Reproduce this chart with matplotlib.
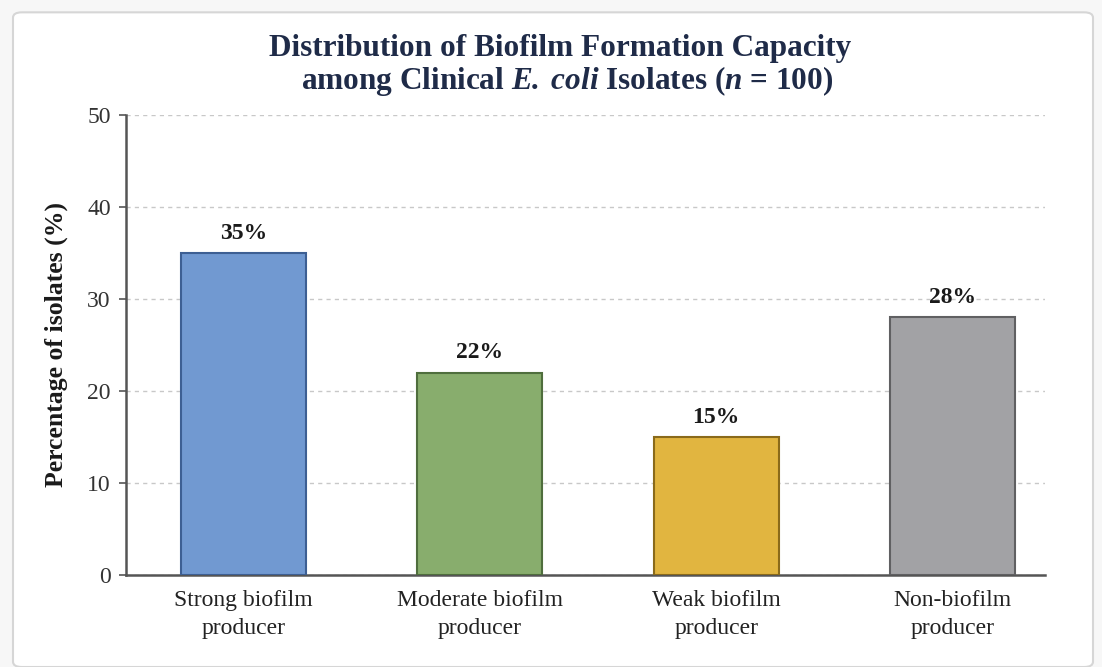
import matplotlib.pyplot as plt
from matplotlib.patches import FancyBboxPatch

# Biofilm formation categories and percentages of isolates
categories = ['Strong biofilm\nproducer', 'Moderate biofilm\nproducer',
              'Weak biofilm\nproducer', 'Non-biofilm\nproducer']
percentages = [35, 22, 15, 28]
bar_colors = ['#7199d1', '#88ad6d', '#e1b540', '#a2a2a5']
edge_colors = ['#3d5f93', '#4f6e3d', '#8a6a1a', '#606062']
yticks = [0, 10, 20, 30, 40, 50]

plt.rcParams['font.family'] = ['Liberation Serif', 'DejaVu Serif']
plt.rcParams['mathtext.fontset'] = 'custom'
plt.rcParams['mathtext.rm'] = 'Liberation Serif:bold'
plt.rcParams['mathtext.bfit'] = 'Liberation Serif:bold:italic'

fig = plt.figure(figsize=(11.02, 6.67), dpi=100)
fig.patch.set_facecolor('#f7f7f7')

# white card behind the chart
card = FancyBboxPatch((13 / 1102, 0), 1080 / 1102, 658 / 667 - 0.005,
                      boxstyle='round,pad=0,rounding_size=0.008',
                      transform=fig.transFigure, facecolor='white',
                      edgecolor='#d6d6d6', linewidth=1.5, zorder=-1)
fig.patches.append(card)

ax = fig.add_axes([126 / 1102, (667 - 575) / 667, 919 / 1102, 460 / 667])
ax.set_facecolor('none')

x = list(range(len(categories)))
bars = ax.bar(x, percentages, width=0.53, color=bar_colors,
              edgecolor=edge_colors, linewidth=1.5, zorder=3)

for b, v in zip(bars, percentages):
    ax.text(b.get_x() + b.get_width() / 2, v + 1.0, f'{v}%',
            ha='center', va='bottom', fontsize=17, fontweight='bold',
            color='#1a1a1a', zorder=4)

ax.set_ylim(0, 50)
ax.set_xlim(-0.496, 3.39)
ax.set_yticks(yticks)
ax.set_yticklabels([str(t) for t in yticks], fontsize=17, color='#333333')
ax.set_xticks(x)
ax.set_xticklabels(categories, fontsize=17, color='#222222', linespacing=1.45)
ax.tick_params(axis='x', length=0, pad=11)
ax.tick_params(axis='y', length=5, width=1.2, color='#555555', pad=6)

ax.yaxis.grid(True, linestyle=(0, (3, 3)), color='#c8c8c8', linewidth=1.0, zorder=0)
ax.set_axisbelow(True)

for side in ['top', 'right']:
    ax.spines[side].set_visible(False)
for side in ['left', 'bottom']:
    ax.spines[side].set_color('#555555')
    ax.spines[side].set_linewidth(1.8)

ax.set_ylabel('Percentage of isolates (%)', fontsize=18.5, fontweight='bold',
              color='#1a1a1a', labelpad=14)

fig.text(0.508, 0.928, 'Distribution of Biofilm Formation Capacity',
         ha='center', va='center', fontsize=22.5, fontweight='bold', color='#1f2b48')
fig.text(0.515, 0.878,
         r'among Clinical $\mathbfit{E.\,coli}$ Isolates ($\mathbfit{n}$ = 100)',
         ha='center', va='center', fontsize=22.5, fontweight='bold', color='#1f2b48')

fig.savefig('out.png', dpi=100, facecolor=fig.get_facecolor())
